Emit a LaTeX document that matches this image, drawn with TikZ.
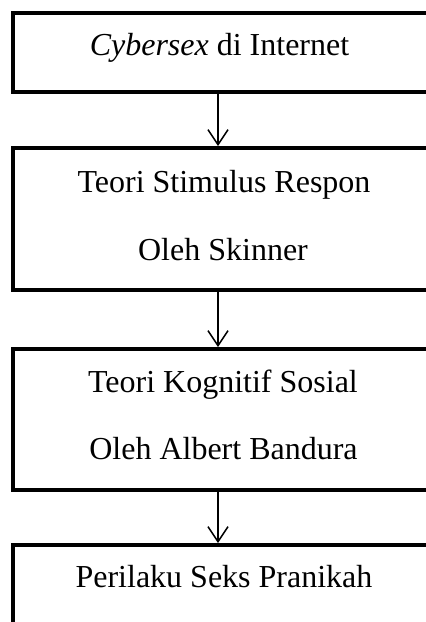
\documentclass[tikz,border=0pt]{standalone}
\usepackage{fontspec}
\setmainfont{Liberation Serif}
\usetikzlibrary{arrows.meta}
\begin{document}
\begin{tikzpicture}[x=1pt,y=-1pt,
  box/.style={draw, line width=4pt, inner sep=0pt, minimum width=418pt},
  txt/.style={anchor=base, inner sep=0pt, font=\fontsize{32}{38}\selectfont},
  arr/.style={line width=1.5pt, -{Straight Barb[length=15pt,width=20pt,line width=1.5pt]}}]
\useasboundingbox (0,0) rectangle (426,622);
\clip (0,0) rectangle (426,622);
\node[box, minimum height=79pt] (b1) at (222,52.5) {};
\node[box, minimum height=142pt] (b2) at (222,219) {};
\node[box, minimum height=141pt] (b3) at (222,419.5) {};
\node[box, minimum height=140pt] (b4) at (222,615) {};
\coordinate (ax) at (218,0);
\node[txt] (t1) at (219.5,55) {\textit{Cybersex} di Internet};
\node[txt] (t2a) at (224,192) {Teori Stimulus Respon};
\node[txt] (t2b) at (223,260) {Oleh Skinner};
\node[txt] (t3a) at (223,392) {Teori Kognitif Sosial};
\node[txt] (t3b) at (223.5,459) {Oleh Albert Bandura};
\node[txt] (t4) at (224,587) {Perilaku Seks Pranikah};
\draw[arr] (b1.south -| ax) -- (b2.north -| ax);
\draw[arr] (b2.south -| ax) -- (b3.north -| ax);
\draw[arr] (b3.south -| ax) -- (b4.north -| ax);
\end{tikzpicture}
\end{document}
